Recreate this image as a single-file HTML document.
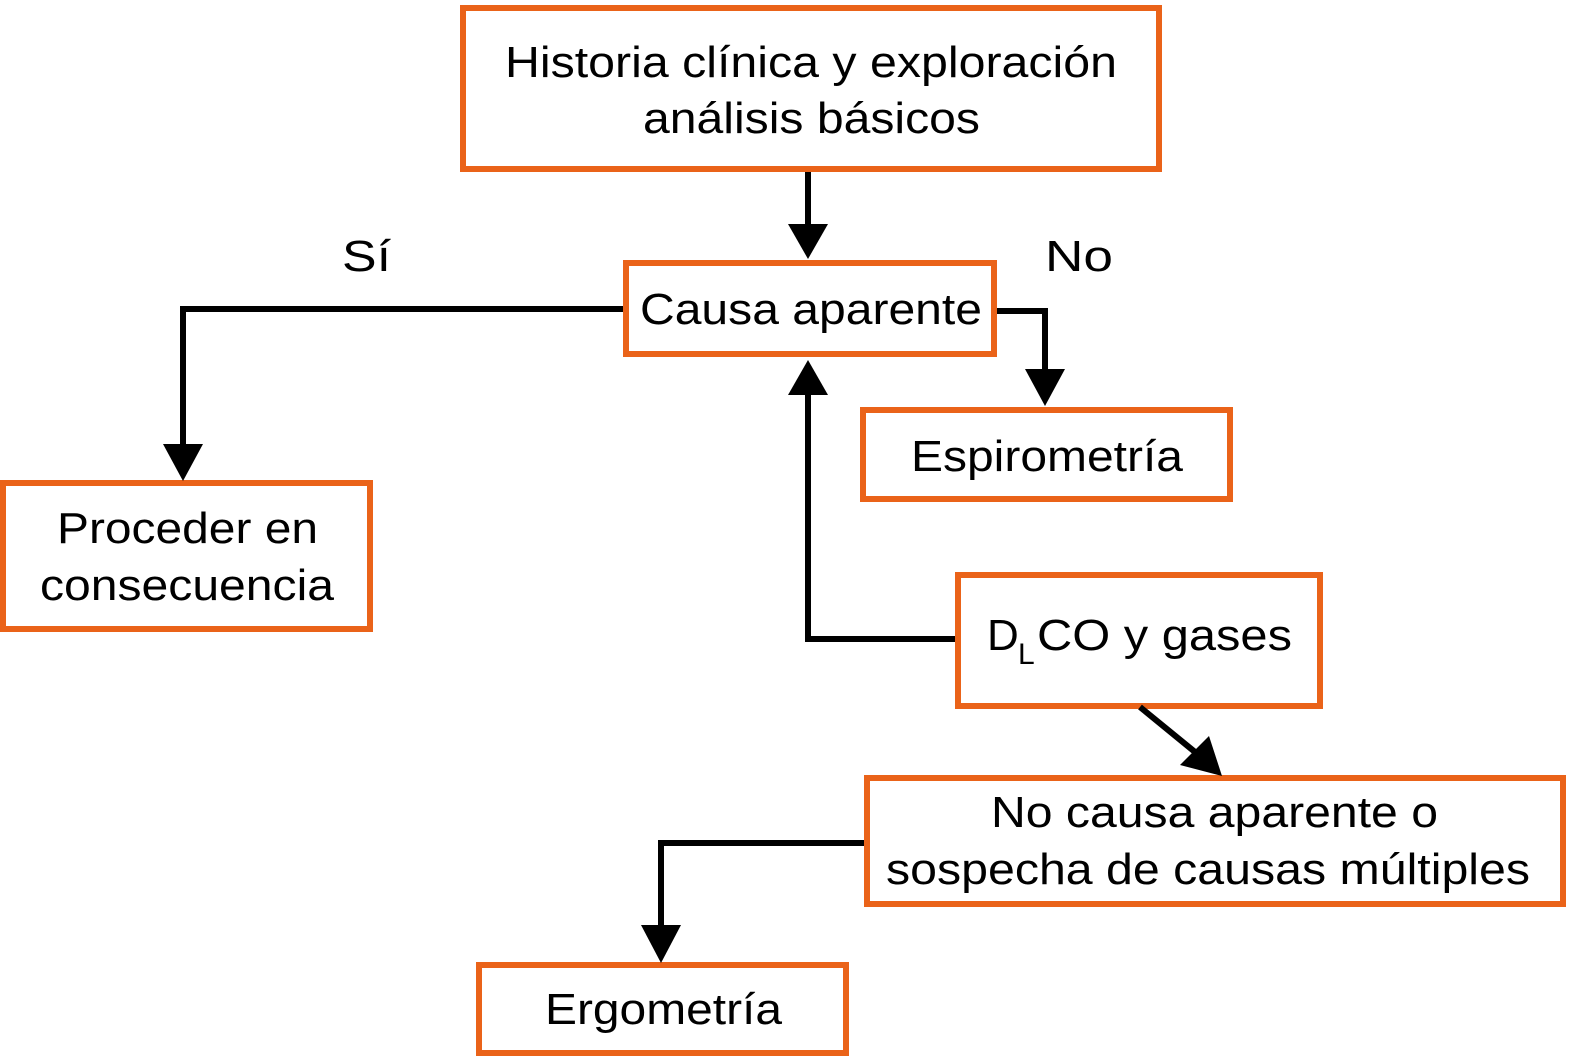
<!DOCTYPE html>
<html><head><meta charset="utf-8"><style>html,body{margin:0;padding:0;background:#fff}svg{display:block}</style></head>
<body>
<svg width="1576" height="1062" viewBox="0 0 1576 1062" xmlns="http://www.w3.org/2000/svg" font-family="Liberation Sans, Arial, sans-serif" font-size="44" fill="#000">
<g fill="#fff" stroke="#EA6319" stroke-width="6">
<rect x="463" y="8" width="696" height="161"/>
<rect x="626" y="263" width="368" height="91"/>
<rect x="863" y="410" width="367" height="89"/>
<rect x="3" y="483" width="367" height="146"/>
<rect x="958" y="575" width="362" height="131"/>
<rect x="867" y="778" width="696" height="126"/>
<rect x="479" y="965" width="367" height="88"/>
</g>
<g stroke="#000" stroke-width="6" fill="none">
<line x1="808" y1="172" x2="808" y2="228"/>
<polyline points="623,309 183,309 183,448"/>
<polyline points="997,311 1045,311 1045,372"/>
<polyline points="955,639 808,639 808,392"/>
<line x1="1140" y1="707" x2="1195" y2="752"/>
<polyline points="864,843 661,843 661,928"/>
</g>
<g fill="#000">
<polygon points="788,224 828,224 808,259"/>
<polygon points="163,444 203,444 183,481"/>
<polygon points="1025,369 1065,369 1045,406"/>
<polygon points="788,395 828,395 808,360"/>
<polygon points="1180,765 1209,736 1222,776"/>
<polygon points="641,925 681,925 661,963"/>
</g>
<g text-anchor="start" lengthAdjust="spacingAndGlyphs">
<text x="505" y="77" textLength="612" lengthAdjust="spacingAndGlyphs">Historia clínica y exploración</text>
<text x="643" y="133" textLength="337" lengthAdjust="spacingAndGlyphs">análisis básicos</text>
<text x="640" y="324" textLength="342" lengthAdjust="spacingAndGlyphs">Causa aparente</text>
<text x="342" y="271" textLength="49" lengthAdjust="spacingAndGlyphs">Sí</text>
<text x="1045" y="271" textLength="68" lengthAdjust="spacingAndGlyphs">No</text>
<text x="911" y="471" textLength="272" lengthAdjust="spacingAndGlyphs">Espirometría</text>
<text x="57" y="543" textLength="261" lengthAdjust="spacingAndGlyphs">Proceder en</text>
<text x="40" y="600" textLength="294" lengthAdjust="spacingAndGlyphs">consecuencia</text>
<text x="987" y="650">D</text>
<text x="1018" y="664" font-size="30">L</text>
<text x="1037" y="650" textLength="255" lengthAdjust="spacingAndGlyphs">CO y gases</text>
<text x="991" y="827" textLength="447" lengthAdjust="spacingAndGlyphs">No causa aparente o</text>
<text x="886" y="884" textLength="644" lengthAdjust="spacingAndGlyphs">sospecha de causas múltiples</text>
<text x="545" y="1024" textLength="237" lengthAdjust="spacingAndGlyphs">Ergometría</text>
</g>
</svg>
</body></html>
